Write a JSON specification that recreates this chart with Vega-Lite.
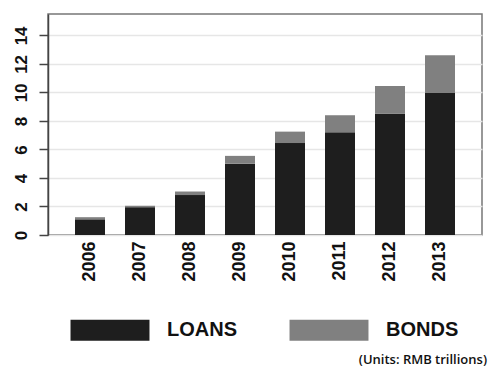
{
  "$schema": "https://vega.github.io/schema/vega-lite/v6.json",
  "width": 434,
  "height": 221,
  "autosize": {"type": "none"},
  "padding": {"left": 48, "top": 14, "right": 7, "bottom": 132},
  "background": "white",
  "title": {
    "text": "(Units: RMB trillions)",
    "orient": "bottom",
    "anchor": "end",
    "font": "Open Sans",
    "fontSize": 13,
    "fontWeight": 600,
    "color": "#111111",
    "dx": 5,
    "offset": 13
  },
  "data": {
    "values": [
      {"year": "2006", "type": "LOANS", "value": 1.1},
      {"year": "2006", "type": "BONDS", "value": 0.15},
      {"year": "2007", "type": "LOANS", "value": 1.95},
      {"year": "2007", "type": "BONDS", "value": 0.1},
      {"year": "2008", "type": "LOANS", "value": 2.8},
      {"year": "2008", "type": "BONDS", "value": 0.25},
      {"year": "2009", "type": "LOANS", "value": 5.0},
      {"year": "2009", "type": "BONDS", "value": 0.55},
      {"year": "2010", "type": "LOANS", "value": 6.45},
      {"year": "2010", "type": "BONDS", "value": 0.8},
      {"year": "2011", "type": "LOANS", "value": 7.2},
      {"year": "2011", "type": "BONDS", "value": 1.2},
      {"year": "2012", "type": "LOANS", "value": 8.5},
      {"year": "2012", "type": "BONDS", "value": 1.95},
      {"year": "2013", "type": "LOANS", "value": 10.0},
      {"year": "2013", "type": "BONDS", "value": 2.6}
    ]
  },
  "mark": {"type": "bar"},
  "encoding": {
    "x": {
      "field": "year",
      "type": "ordinal",
      "scale": {"paddingInner": 0.4, "paddingOuter": 0.54},
      "axis": {
        "title": null,
        "labelAngle": 270,
        "labelAlign": "right",
        "labelBaseline": "middle",
        "labelFontSize": 18,
        "labelPadding": 6,
        "ticks": false,
        "domain": false
      }
    },
    "y": {
      "field": "value",
      "type": "quantitative",
      "stack": "zero",
      "scale": {"domain": [0, 15.5], "nice": false},
      "axis": {
        "title": null,
        "values": [0, 2, 4, 6, 8, 10, 12, 14],
        "labelAngle": 270,
        "labelAlign": "center",
        "labelBaseline": "bottom",
        "labelFontSize": 17,
        "tickSize": 9,
        "labelPadding": 9,
        "tickColor": "#444444",
        "tickWidth": 1.5,
        "domainColor": "#444444",
        "domainWidth": 1.5,
        "gridColor": "#e6e6e6",
        "gridWidth": 1.5
      }
    },
    "color": {
      "field": "type",
      "type": "nominal",
      "scale": {"domain": ["LOANS", "BONDS"], "range": ["#1e1e1e", "#808080"]},
      "legend": {
        "title": null,
        "orient": "none",
        "legendX": 41,
        "legendY": 295,
        "direction": "horizontal",
        "symbolType": "M-1.88,-0.5H1.88V0.5H-1.88Z",
        "symbolSize": 1764,
        "symbolStrokeWidth": 0,
        "labelFontSize": 20,
        "labelFont": "Liberation Sans",
        "labelFontWeight": "bold",
        "labelColor": "#111111",
        "labelOffset": 36,
        "columnPadding": 52
      }
    },
    "order": {"field": "type", "sort": "descending"}
  },
  "config": {
    "font": "Liberation Sans",
    "axis": {
      "labelFont": "Liberation Sans",
      "labelFontWeight": "bold",
      "labelColor": "#111111"
    },
    "view": {"stroke": "#777777", "strokeWidth": 1.5}
  }
}
